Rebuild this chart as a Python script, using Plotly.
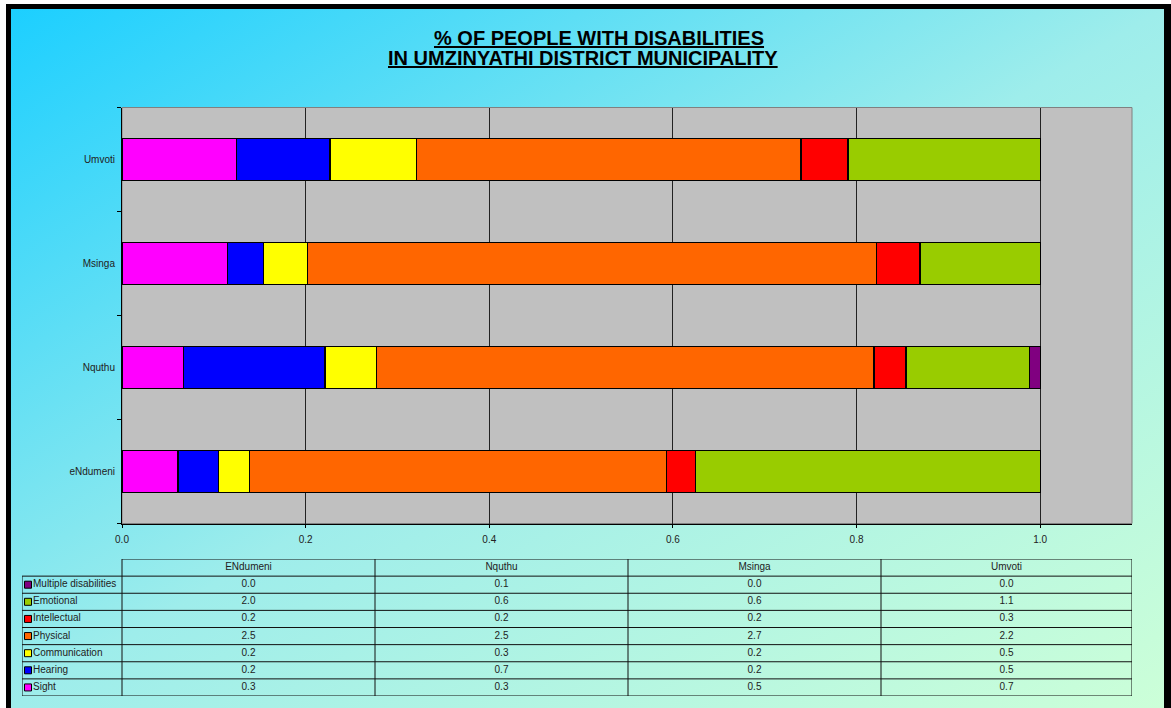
import base64
import plotly.graph_objects as go

# ---------------- data ----------------
municipalities = ["eNdumeni", "Nquthu", "Msinga", "Umvoti"]
table_headers = ["ENdumeni", "Nquthu", "Msinga", "Umvoti"]
disabilities = ["Sight", "Hearing", "Communication", "Physical",
                "Intellectual", "Emotional", "Multiple disabilities"]
colors = ["#FF00FF", "#0000FF", "#FFFF00", "#FF6600",
          "#FF0000", "#99CC00", "#800080"]

sight = [0.33, 0.31, 0.50, 0.66]
hearing = [0.24, 0.71, 0.17, 0.54]
communication = [0.18, 0.26, 0.21, 0.50]
physical = [2.46, 2.50, 2.70, 2.22]
intellectual = [0.17, 0.16, 0.205, 0.27]
emotional = [2.03, 0.62, 0.57, 1.11]
multiple = [0.0, 0.055, 0.0, 0.0]

series = [sight, hearing, communication, physical, intellectual, emotional, multiple]
x_ticks = [0.0, 0.2, 0.4, 0.6, 0.8, 1.0]

W, H = 1171, 708
FONT = "Arial, 'Liberation Sans', sans-serif"
TXT = "#222222"

# ---------------- background (frame + gradient) ----------------
svg = f'''<svg xmlns="http://www.w3.org/2000/svg" width="{W}" height="{H}" viewBox="0 0 {W} {H}" preserveAspectRatio="none">
<defs><linearGradient id="g" x1="0" y1="0" x2="1" y2="1">
<stop offset="0" stop-color="#1CCFFF"/><stop offset="0.5" stop-color="#9EEDEB"/><stop offset="1" stop-color="#CCFFD8"/>
</linearGradient></defs>
<rect x="0" y="0" width="{W}" height="{H}" fill="#ffffff"/>
<rect x="6" y="4" width="{W-6}" height="{H-4}" fill="#000000"/>
<rect x="11" y="9" width="1153" height="{H-9}" fill="url(#g)"/>
</svg>'''
bg_src = "data:image/svg+xml;base64," + base64.b64encode(svg.encode()).decode()


def px_x(p):
    return p / W


def px_y(p):
    return 1 - p / H


fig = go.Figure()

# ---------------- stacked bars ----------------
ypos = list(range(len(municipalities)))
for name, vals, col in zip(disabilities, series, colors):
    fig.add_trace(go.Bar(
        y=ypos, x=vals, name=name, orientation="h", width=0.4,
        marker=dict(color=col, line=dict(color="#000000", width=1.3)),
        showlegend=False, hoverinfo="skip",
    ))

# ---------------- data table (drawn on hidden axes x2 / y3) ----------------
col_widths = [100, 253, 253, 253, 251]
col_edges = [0]
for w in col_widths:
    col_edges.append(col_edges[-1] + w)
table_w = col_edges[-1]
col_centers = [(col_edges[i] + col_edges[i + 1]) / 2 for i in range(len(col_widths))]
row_idx = list(range(len(disabilities)))          # 0 = Sight (bottom row)
header_row = len(disabilities)                    # top row

# legend keys
fig.add_trace(go.Scatter(
    x=[6] * len(disabilities), y=row_idx, mode="markers",
    marker=dict(symbol="square", size=7, color=colors,
                line=dict(color="#000000", width=1)),
    xaxis="x2", yaxis="y3", showlegend=False, hoverinfo="skip", cliponaxis=False,
))
# row labels
fig.add_trace(go.Scatter(
    x=[11] * len(disabilities), y=row_idx, mode="text", text=disabilities,
    textposition="middle right", textfont=dict(family=FONT, size=10, color=TXT),
    xaxis="x2", yaxis="y3", showlegend=False, hoverinfo="skip", cliponaxis=False,
))
# header + values
fig.add_trace(go.Scatter(
    x=col_centers[1:], y=[header_row] * len(table_headers), mode="text",
    text=table_headers, textposition="middle center",
    textfont=dict(family=FONT, size=10, color=TXT),
    xaxis="x2", yaxis="y3", showlegend=False, hoverinfo="skip", cliponaxis=False,
))
for m in range(len(municipalities)):
    fig.add_trace(go.Scatter(
        x=[col_centers[m + 1]] * len(disabilities), y=row_idx, mode="text",
        text=[f"{series[i][m]:.1f}" for i in row_idx], textposition="middle center",
        textfont=dict(family=FONT, size=10, color=TXT),
        xaxis="x2", yaxis="y3", showlegend=False, hoverinfo="skip", cliponaxis=False,
    ))

grid_line = dict(color="#111111", width=1)
shapes = [
    dict(type="rect", xref="x domain", yref="y domain", x0=0, x1=1, y0=0, y1=1,
         fillcolor="#C0C0C0", line=dict(color="#808080", width=1), layer="below"),
]
for k in range(len(disabilities) + 1):
    shapes.append(dict(type="line", xref="x2", yref="y3", x0=0, x1=table_w,
                       y0=k - 0.5, y1=k - 0.5, line=grid_line))
shapes.append(dict(type="line", xref="x2", yref="y3", x0=col_edges[1], x1=table_w,
                   y0=header_row + 0.5, y1=header_row + 0.5, line=grid_line))
shapes.append(dict(type="line", xref="x2", yref="y3", x0=0, x1=0,
                   y0=-0.5, y1=header_row - 0.5, line=grid_line))
for e in col_edges[1:]:
    shapes.append(dict(type="line", xref="x2", yref="y3", x0=e, x1=e,
                       y0=-0.5, y1=header_row + 0.5, line=grid_line))

fig.update_layout(
    template="none",
    width=W, height=H, autosize=False,
    margin=dict(l=0, r=0, t=0, b=0, pad=0),
    paper_bgcolor="#ffffff", plot_bgcolor="rgba(0,0,0,0)",
    barmode="stack", barnorm="fraction",
    font=dict(family=FONT, size=10, color=TXT),
    showlegend=False,
    images=[dict(source=bg_src, xref="paper", yref="paper", x=0, y=1,
                 sizex=1, sizey=1, xanchor="left", yanchor="top",
                 sizing="stretch", layer="below")],
    xaxis=dict(domain=[px_x(122), px_x(1132)], range=[0, 1.1],
               tickvals=x_ticks, tickformat=".1f",
               showgrid=True, gridcolor="#222222", gridwidth=1,
               zeroline=False, showline=True, linecolor="#000000", linewidth=1,
               ticks="outside", ticklen=3, tickcolor="#000000",
               ticklabelstandoff=3, automargin=False,
               tickfont=dict(family=FONT, size=10, color=TXT),
               anchor="y", fixedrange=True),
    yaxis=dict(domain=[px_y(523.5), px_y(107.5)], range=[-0.5, 3.5],
               tickvals=ypos, ticktext=municipalities,
               showgrid=False, zeroline=False,
               showline=True, linecolor="#000000", linewidth=1,
               ticks="", ticklabelstandoff=4, automargin=False,
               minor=dict(tickvals=[-0.5, 0.5, 1.5, 2.5, 3.5], ticks="outside",
                          ticklen=4, tickcolor="#000000", showgrid=False),
               tickfont=dict(family=FONT, size=10, color=TXT),
               anchor="x", fixedrange=True),
    xaxis2=dict(domain=[px_x(22), px_x(22 + table_w)], range=[0, table_w],
                visible=False, anchor="y3", fixedrange=True, automargin=False),
    yaxis3=dict(domain=[px_y(696), px_y(559)], range=[-0.5, header_row + 0.5],
                visible=False, anchor="x2", fixedrange=True, automargin=False),
    shapes=shapes,
    annotations=[
        dict(text="<b><u>% OF PEOPLE WITH DISABILITIES</u></b>",
             xref="paper", yref="paper", x=px_x(599), y=px_y(38),
             xanchor="center", yanchor="middle", showarrow=False,
             font=dict(family=FONT, size=20, color="#000000")),
        dict(text="<b><u>IN UMZINYATHI DISTRICT MUNICIPALITY</u></b>",
             xref="paper", yref="paper", x=px_x(582.5), y=px_y(58),
             xanchor="center", yanchor="middle", showarrow=False,
             font=dict(family=FONT, size=20, color="#000000")),
    ],
)

fig.write_html("out.html")
